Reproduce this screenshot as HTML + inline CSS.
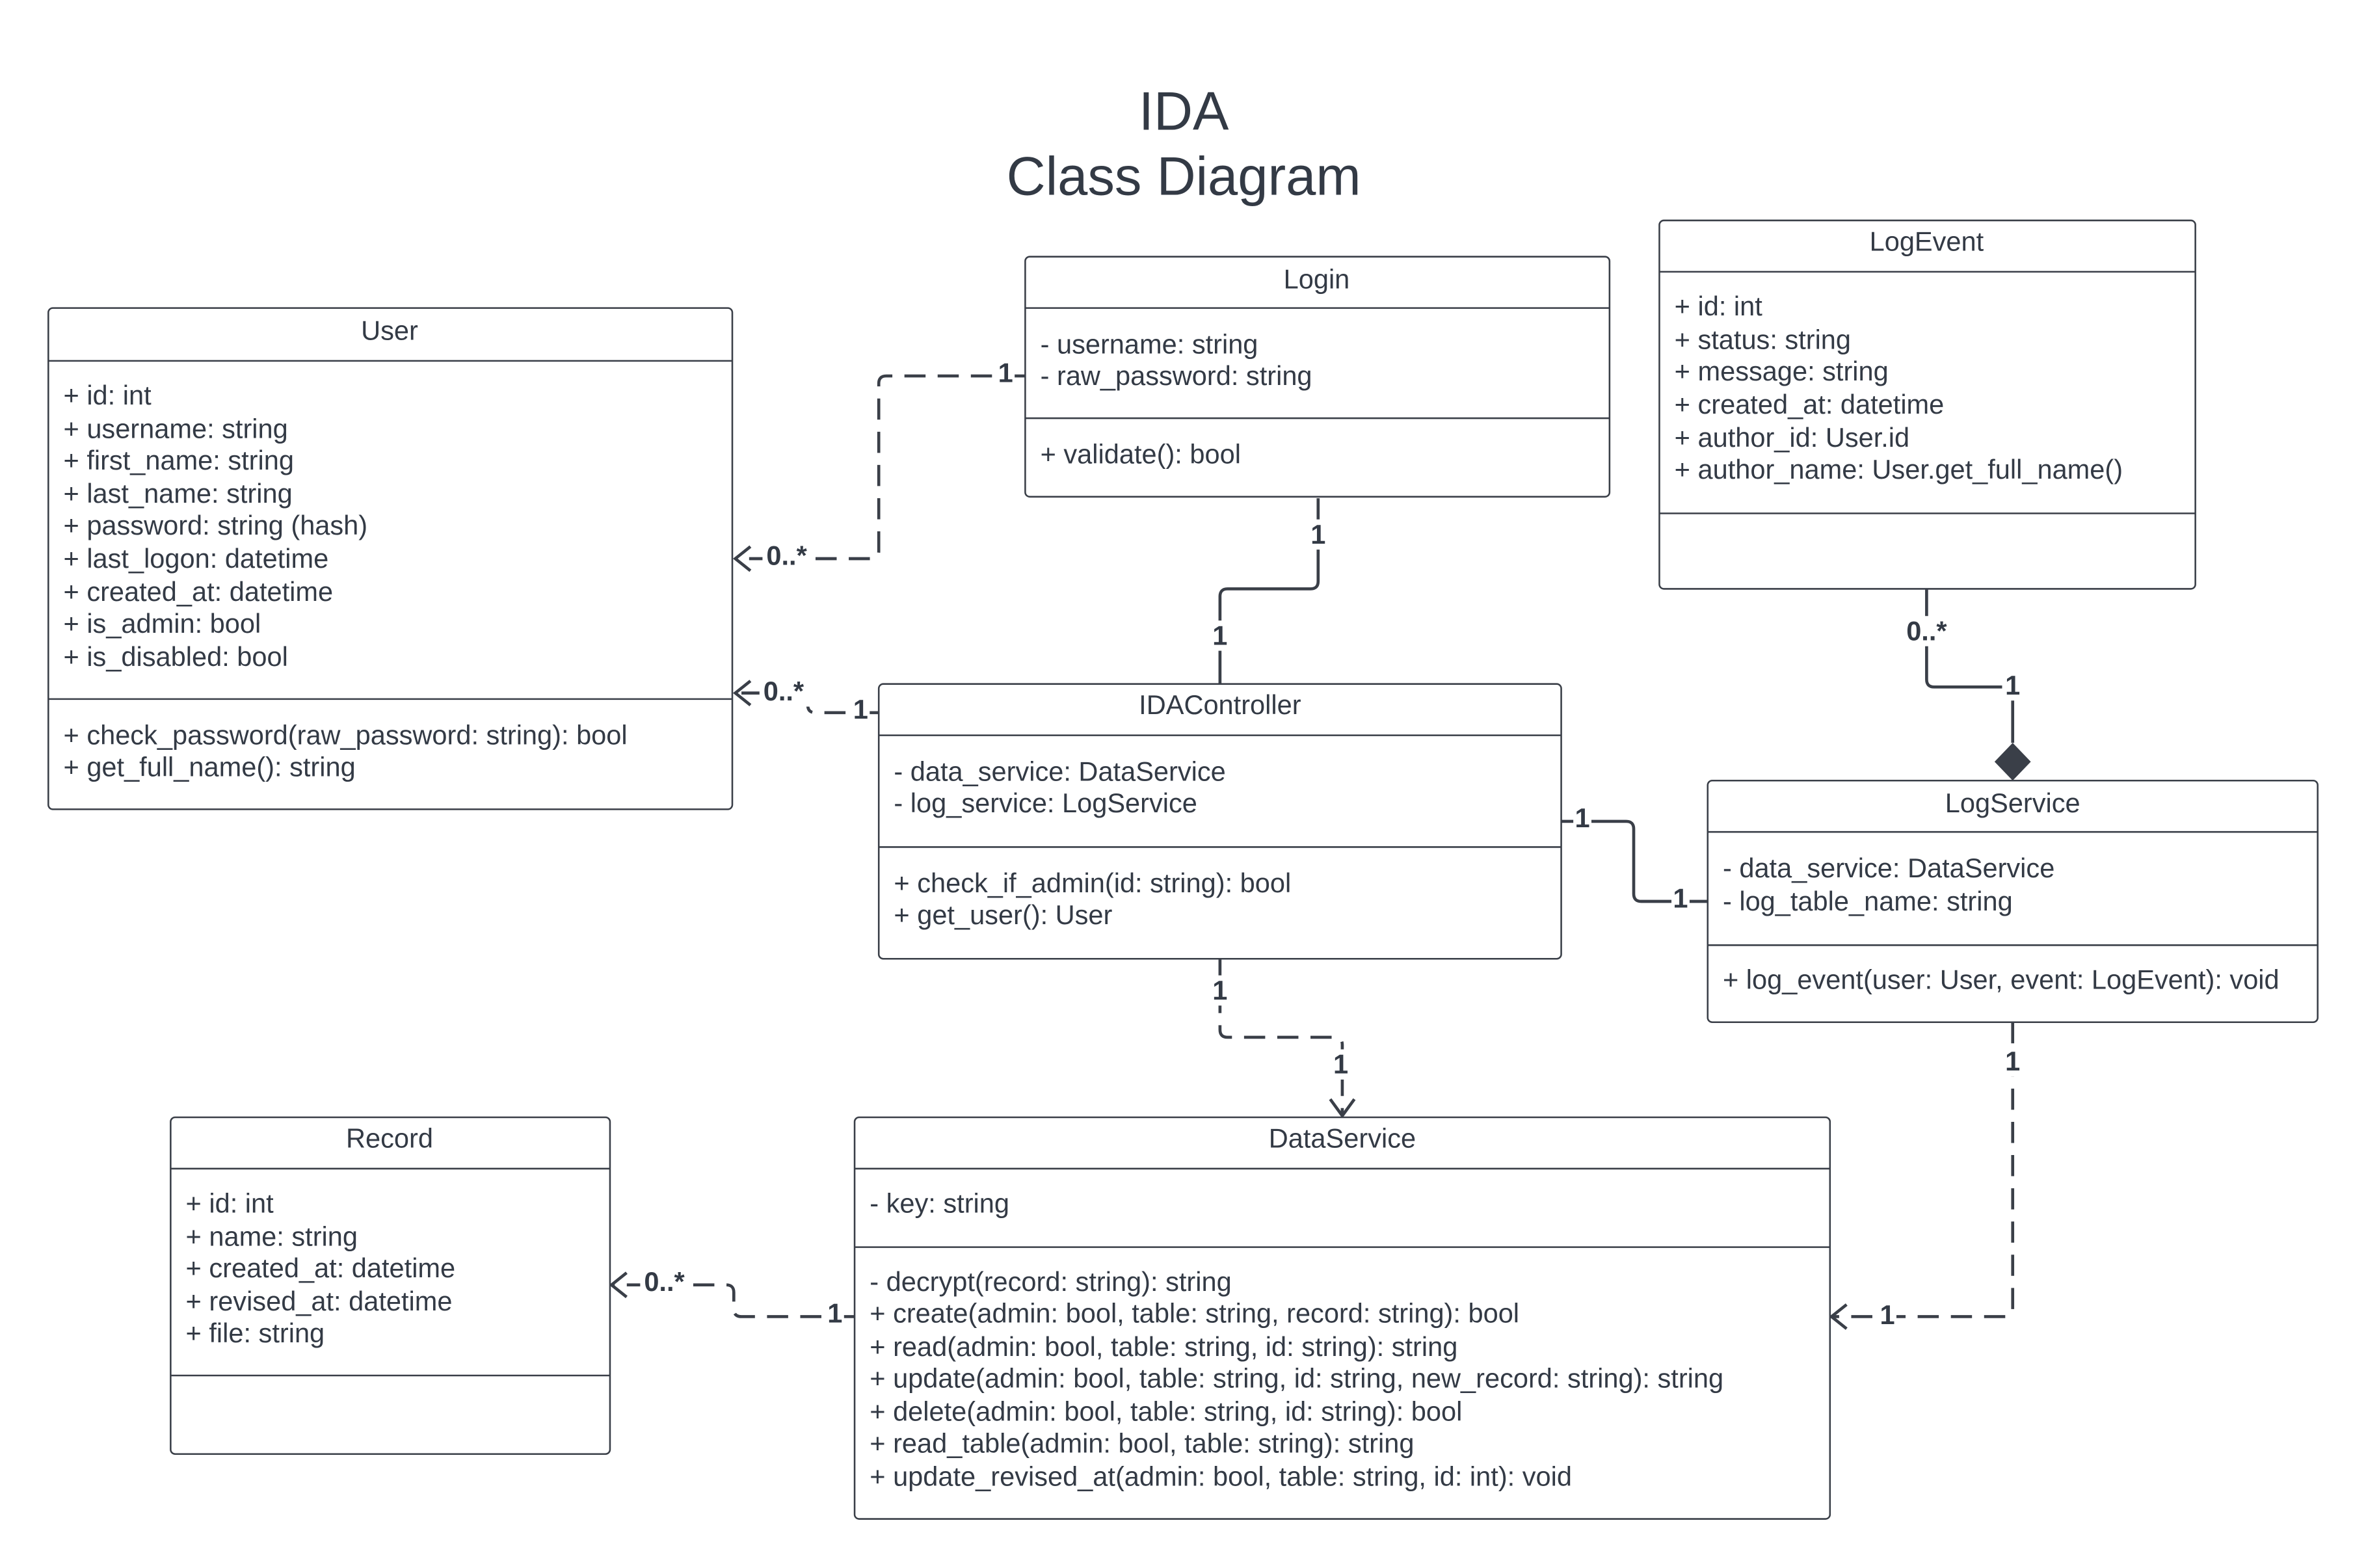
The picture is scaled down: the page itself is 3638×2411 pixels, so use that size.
<!DOCTYPE html>
<html><head><meta charset="utf-8"><style>
html,body{margin:0;padding:0;background:#fff;}
svg{display:block;}
text{font-family:"Liberation Sans",Arial,sans-serif;fill:#333a45;}
.b{fill:#fff;stroke:#3a3f48;stroke-width:1.1;}
.l{stroke:#3a3f48;stroke-width:1.1;}
.c{fill:none;stroke:#3a3f48;stroke-width:2;}
.d{stroke-dasharray:14,8;}
.t{font-size:17.9px;}
.h{font-size:17.9px;text-anchor:middle;}
.lb{font-size:17.9px;font-weight:bold;text-anchor:middle;}
.bg{fill:#fff;}
</style></head><body>
<svg width="3638" height="2411" viewBox="0 0 1567 1038.5" xmlns="http://www.w3.org/2000/svg">
<rect width="1567" height="1040" fill="#fff"/>
<text x="784" y="86" font-size="35.8" text-anchor="middle">IDA</text>
<text x="784" y="129" font-size="35.8" text-anchor="middle">Class Diagram</text>

<!-- connectors -->
<path class="c d" d="M679 249 H587 Q582 249 582 254 V365 Q582 370 577 370 H488"/>
<path class="c" d="M497 362 L487 370 L497 378"/>
<path class="c" d="M873 330 V385 Q873 390 868 390 H813 Q808 390 808 395 V453"/>
<path class="c d" d="M582 472 H540 Q535 472 535 467 V459 H488"/>
<path class="c" d="M497 451 L487 459 L497 467"/>
<path class="c" d="M1276 390 V450 Q1276 455 1281 455 H1333 V492"/>
<path d="M1333 492 L1345 504.5 L1333 517 L1321 504.5 Z" fill="#3a3f48"/>
<path class="c" d="M1034 544 H1077 Q1082 544 1082 549 V592 Q1082 597 1087 597 H1131"/>
<path class="c d" d="M808 635 V682 Q808 687 813 687 H884 Q889 687 889 692 V738"/>
<path class="c" d="M881 728 L889 739 L897 728"/>
<path class="c d" d="M1333 677 V867 Q1333 872 1328 872 H1214"/>
<path class="c" d="M1223 864 L1213 872 L1223 880"/>
<path class="c d" d="M566 872 H491 Q486 872 486 867 V856 Q486 851 481 851 H406"/>
<path class="c" d="M415 843 L405 851 L415 859"/>

<!-- labels -->
<g>
<rect class="bg" x="660" y="237" width="12" height="20"/><text class="lb" x="666" y="253">1</text>
<rect class="bg" x="505" y="358" width="34" height="20"/><text class="lb" x="521" y="374">0..*</text>
<rect class="bg" x="866" y="344" width="14" height="20"/><text class="lb" x="873" y="360">1</text>
<rect class="bg" x="801" y="411" width="14" height="20"/><text class="lb" x="808" y="427">1</text>
<rect class="bg" x="503" y="448" width="34" height="20"/><text class="lb" x="519" y="464">0..*</text>
<rect class="bg" x="564" y="460" width="12" height="20"/><text class="lb" x="570" y="476">1</text>
<rect class="bg" x="1258" y="408" width="36" height="20"/><text class="lb" x="1276" y="424">0..*</text>
<rect class="bg" x="1326" y="444" width="14" height="20"/><text class="lb" x="1333" y="460">1</text>
<rect class="bg" x="1042" y="532" width="12" height="20"/><text class="lb" x="1048" y="548">1</text>
<rect class="bg" x="1107" y="585" width="12" height="20"/><text class="lb" x="1113" y="601">1</text>
<rect class="bg" x="801" y="646" width="14" height="20"/><text class="lb" x="808" y="662">1</text>
<rect class="bg" x="881" y="695" width="14" height="20"/><text class="lb" x="888" y="711">1</text>
<rect class="bg" x="1326" y="693" width="14" height="20"/><text class="lb" x="1333" y="709">1</text>
<rect class="bg" x="1244" y="861" width="12" height="20"/><text class="lb" x="1250" y="877">1</text>
<rect class="bg" x="424" y="839" width="32" height="20"/><text class="lb" x="440" y="855">0..*</text>
<rect class="bg" x="547" y="860" width="12" height="20"/><text class="lb" x="553" y="876">1</text>
</g>

<!-- User -->
<rect class="b" x="32" y="204" width="453" height="332" rx="3"/>
<line class="l" x1="32" y1="239" x2="485" y2="239"/>
<line class="l" x1="32" y1="463" x2="485" y2="463"/>
<text class="h" x="258" y="225">User</text>
<g class="t">
<text x="42" y="268">+ id: int</text>
<text x="42" y="290">+ username: string</text>
<text x="42" y="311">+ first_name: string</text>
<text x="42" y="333">+ last_name: string</text>
<text x="42" y="354">+ password: string (hash)</text>
<text x="42" y="376">+ last_logon: datetime</text>
<text x="42" y="398">+ created_at: datetime</text>
<text x="42" y="419">+ is_admin: bool</text>
<text x="42" y="441">+ is_disabled: bool</text>
<text x="42" y="493">+ check_password(raw_password: string): bool</text>
<text x="42" y="514">+ get_full_name(): string</text>
</g>

<!-- Login -->
<rect class="b" x="679" y="170" width="387" height="159" rx="3"/>
<line class="l" x1="679" y1="204" x2="1066" y2="204"/>
<line class="l" x1="679" y1="277" x2="1066" y2="277"/>
<text class="h" x="872" y="191">Login</text>
<g class="t">
<text x="689" y="234">- username: string</text>
<text x="689" y="255">- raw_password: string</text>
<text x="689" y="307">+ validate(): bool</text>
</g>

<!-- LogEvent -->
<rect class="b" x="1099" y="146" width="355" height="244" rx="3"/>
<line class="l" x1="1099" y1="180" x2="1454" y2="180"/>
<line class="l" x1="1099" y1="340" x2="1454" y2="340"/>
<text class="h" x="1276" y="166">LogEvent</text>
<g class="t">
<text x="1109" y="209">+ id: int</text>
<text x="1109" y="231">+ status: string</text>
<text x="1109" y="252">+ message: string</text>
<text x="1109" y="274">+ created_at: datetime</text>
<text x="1109" y="296">+ author_id: User.id</text>
<text x="1109" y="317">+ author_name: User.get_full_name()</text>
</g>

<!-- IDAController -->
<rect class="b" x="582" y="453" width="452" height="182" rx="3"/>
<line class="l" x1="582" y1="487" x2="1034" y2="487"/>
<line class="l" x1="582" y1="561" x2="1034" y2="561"/>
<text class="h" x="808" y="473">IDAController</text>
<g class="t">
<text x="592" y="517">- data_service: DataService</text>
<text x="592" y="538">- log_service: LogService</text>
<text x="592" y="591">+ check_if_admin(id: string): bool</text>
<text x="592" y="612">+ get_user(): User</text>
</g>

<!-- LogService -->
<rect class="b" x="1131" y="517" width="404" height="160" rx="3"/>
<line class="l" x1="1131" y1="551" x2="1535" y2="551"/>
<line class="l" x1="1131" y1="626" x2="1535" y2="626"/>
<text class="h" x="1333" y="538">LogService</text>
<g class="t">
<text x="1141" y="581">- data_service: DataService</text>
<text x="1141" y="603">- log_table_name: string</text>
<text x="1141" y="655">+ log_event(user: User, event: LogEvent): void</text>
</g>

<!-- Record -->
<rect class="b" x="113" y="740" width="291" height="223" rx="3"/>
<line class="l" x1="113" y1="774" x2="404" y2="774"/>
<line class="l" x1="113" y1="911" x2="404" y2="911"/>
<text class="h" x="258" y="760">Record</text>
<g class="t">
<text x="123" y="803">+ id: int</text>
<text x="123" y="825">+ name: string</text>
<text x="123" y="846">+ created_at: datetime</text>
<text x="123" y="868">+ revised_at: datetime</text>
<text x="123" y="889">+ file: string</text>
</g>

<!-- DataService -->
<rect class="b" x="566" y="740" width="646" height="266" rx="3"/>
<line class="l" x1="566" y1="774" x2="1212" y2="774"/>
<line class="l" x1="566" y1="826" x2="1212" y2="826"/>
<text class="h" x="889" y="760">DataService</text>
<g class="t">
<text x="576" y="803">- key: string</text>
<text x="576" y="855">- decrypt(record: string): string</text>
<text x="576" y="876">+ create(admin: bool, table: string, record: string): bool</text>
<text x="576" y="898">+ read(admin: bool, table: string, id: string): string</text>
<text x="576" y="919">+ update(admin: bool, table: string, id: string, new_record: string): string</text>
<text x="576" y="941">+ delete(admin: bool, table: string, id: string): bool</text>
<text x="576" y="962">+ read_table(admin: bool, table: string): string</text>
<text x="576" y="984">+ update_revised_at(admin: bool, table: string, id: int): void</text>
</g>
</svg>
</body></html>
